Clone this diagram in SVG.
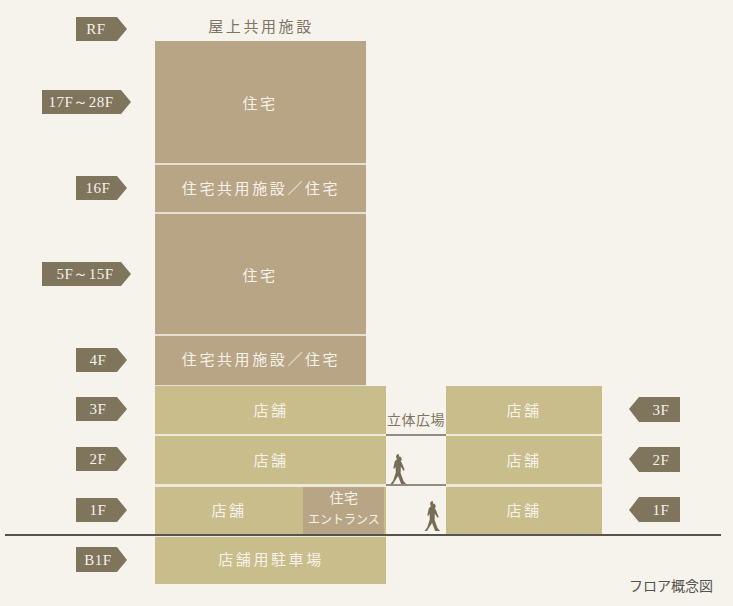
<svg xmlns="http://www.w3.org/2000/svg" width="733" height="606" viewBox="0 0 733 606">
<defs>
<style>
.t{fill:#b8a586}.s{fill:#c8bd8b}.e{fill:#b8a586}
.tag{fill:#7f745c}
.ft{font-family:"Liberation Serif",serif;font-size:15px;fill:#f6f2ea;text-anchor:middle;letter-spacing:.5px}
.lb{font-family:"Noto Sans CJK JP",sans-serif;font-size:15px;fill:#f6f2ea;text-anchor:middle;letter-spacing:2.6px}
.plat{stroke:#8f8c80;stroke-width:2;fill:none}
.fig{fill:#776c55}
</style>
<path id="walker" d="M0 0.500c1.600 0 2.700 1.200 2.700 2.800 0 1-.4 1.800-1 2.300l1 .9 3 7.500-1.200.8-2.700-4.300-.2 6.500 2.900 8 2.600 2.900h-5l-3-8-3.600 5.700-1.500 2.300h-2.500l2.700-3.500 2.600-7.800-.2-6-1.100 2.200-1.200-.6 1.500-7 2.300-2.100c-.7-.6-1-1.500-1-2.400 0-1.600 1.100-2.800 2.700-2.800z"/>
</defs>
<rect width="733" height="606" fill="#f6f2ec"/>
<rect x="155" y="41" width="211" height="345" fill="#e7e0d1"/>
<rect x="155" y="386" width="231" height="198" fill="#eee9da"/>
<rect x="446" y="386" width="156" height="149" fill="#eee9da"/>
<g id="connectors">
<path class="plat" d="M386 435H446M386 485H446"/>
</g>
<g id="roof-label"><text class="lb" x="261" y="32" style="fill:#7d7462">屋上共用施設</text></g>
<g id="floor-17-28"><rect class="t" x="155" y="41" width="211" height="122"/><text class="lb" x="260" y="109">住宅</text></g>
<g id="floor-16"><rect class="t" x="155" y="165" width="211" height="47"/><text class="lb" x="261" y="194">住宅共用施設／住宅</text></g>
<g id="floor-5-15"><rect class="t" x="155" y="214" width="211" height="120"/><text class="lb" x="260" y="281">住宅</text></g>
<g id="floor-4"><rect class="t" x="155" y="336" width="211" height="49"/><text class="lb" x="261" y="365">住宅共用施設／住宅</text></g>
<g id="floor-3-left"><rect class="s" x="155" y="386" width="231" height="48"/><text class="lb" x="271" y="416">店舗</text></g>
<g id="floor-2-left"><rect class="s" x="155" y="436" width="231" height="48"/><text class="lb" x="271" y="466">店舗</text></g>
<g id="floor-1-left"><rect class="s" x="155" y="487" width="231" height="48"/><text class="lb" x="229" y="516">店舗</text></g>
<g id="entrance"><rect class="e" x="303" y="487" width="81" height="47"/><text class="lb" x="344" y="503" style="font-size:14px;letter-spacing:.5px">住宅</text><text class="lb" x="344" y="524" style="font-size:12px;letter-spacing:0">エントランス</text></g>
<g id="floor-b1"><rect class="s" x="155" y="537" width="231" height="47"/><text class="lb" x="271" y="565">店舗用駐車場</text></g>
<g id="floor-3-right"><rect class="s" x="446" y="386" width="156" height="48"/><text class="lb" x="524" y="416">店舗</text></g>
<g id="floor-2-right"><rect class="s" x="446" y="436" width="156" height="48"/><text class="lb" x="524" y="466">店舗</text></g>
<g id="floor-1-right"><rect class="s" x="446" y="487" width="156" height="47"/><text class="lb" x="524" y="516">店舗</text></g>
<g id="ground"><path d="M5 535H721" stroke="#55534c" stroke-width="2" fill="none"/></g>
<g id="plaza-label"><text class="lb" x="416" y="425" style="font-size:14px;letter-spacing:.5px;fill:#7d7462">立体広場</text></g>
<use id="walker-upper" class="fig" href="#walker" x="399" y="456"/>
<use id="walker-lower" class="fig" href="#walker" x="433" y="503"/>
<g id="tag-rf"><polygon class="tag" points="76,17 117,17 127,29 117,41 76,41"/><text class="ft" x="96" y="34">RF</text></g>
<g id="tag-17-28"><polygon class="tag" points="42,90 121,90 131,102 121,114 42,114"/><text class="ft" x="81" y="107">17F～28F</text></g>
<g id="tag-16"><polygon class="tag" points="76,176 117,176 127,188 117,200 76,200"/><text class="ft" x="98" y="193">16F</text></g>
<g id="tag-5-15"><polygon class="tag" points="42,262 121,262 131,274 121,286 42,286"/><text class="ft" x="85" y="279">5F～15F</text></g>
<g id="tag-4"><polygon class="tag" points="76,348 117,348 127,360 117,372 76,372"/><text class="ft" x="98" y="365">4F</text></g>
<g id="tag-3"><polygon class="tag" points="76,397 117,397 127,409 117,421 76,421"/><text class="ft" x="98" y="414">3F</text></g>
<g id="tag-2"><polygon class="tag" points="76,447 117,447 127,459 117,471 76,471"/><text class="ft" x="98" y="464">2F</text></g>
<g id="tag-1"><polygon class="tag" points="76,498 117,498 127,510 117,522 76,522"/><text class="ft" x="98" y="515">1F</text></g>
<g id="tag-b1"><polygon class="tag" points="76,547 117,547 127,560 117,572 76,572"/><text class="ft" x="98" y="565">B1F</text></g>
<g id="tag-3-right"><polygon class="tag" points="680,397 639,397 629,409 639,422 680,422"/><text class="ft" x="661" y="415">3F</text></g>
<g id="tag-2-right"><polygon class="tag" points="680,447 639,447 629,459 639,472 680,472"/><text class="ft" x="661" y="465">2F</text></g>
<g id="tag-1-right"><polygon class="tag" points="680,497 639,497 629,510 639,522 680,522"/><text class="ft" x="661" y="515">1F</text></g>
<g id="caption"><text x="671" y="591" style="font-family:'Noto Sans CJK JP',sans-serif;font-size:14px;fill:#55534c;text-anchor:middle">フロア概念図</text></g>
</svg>
